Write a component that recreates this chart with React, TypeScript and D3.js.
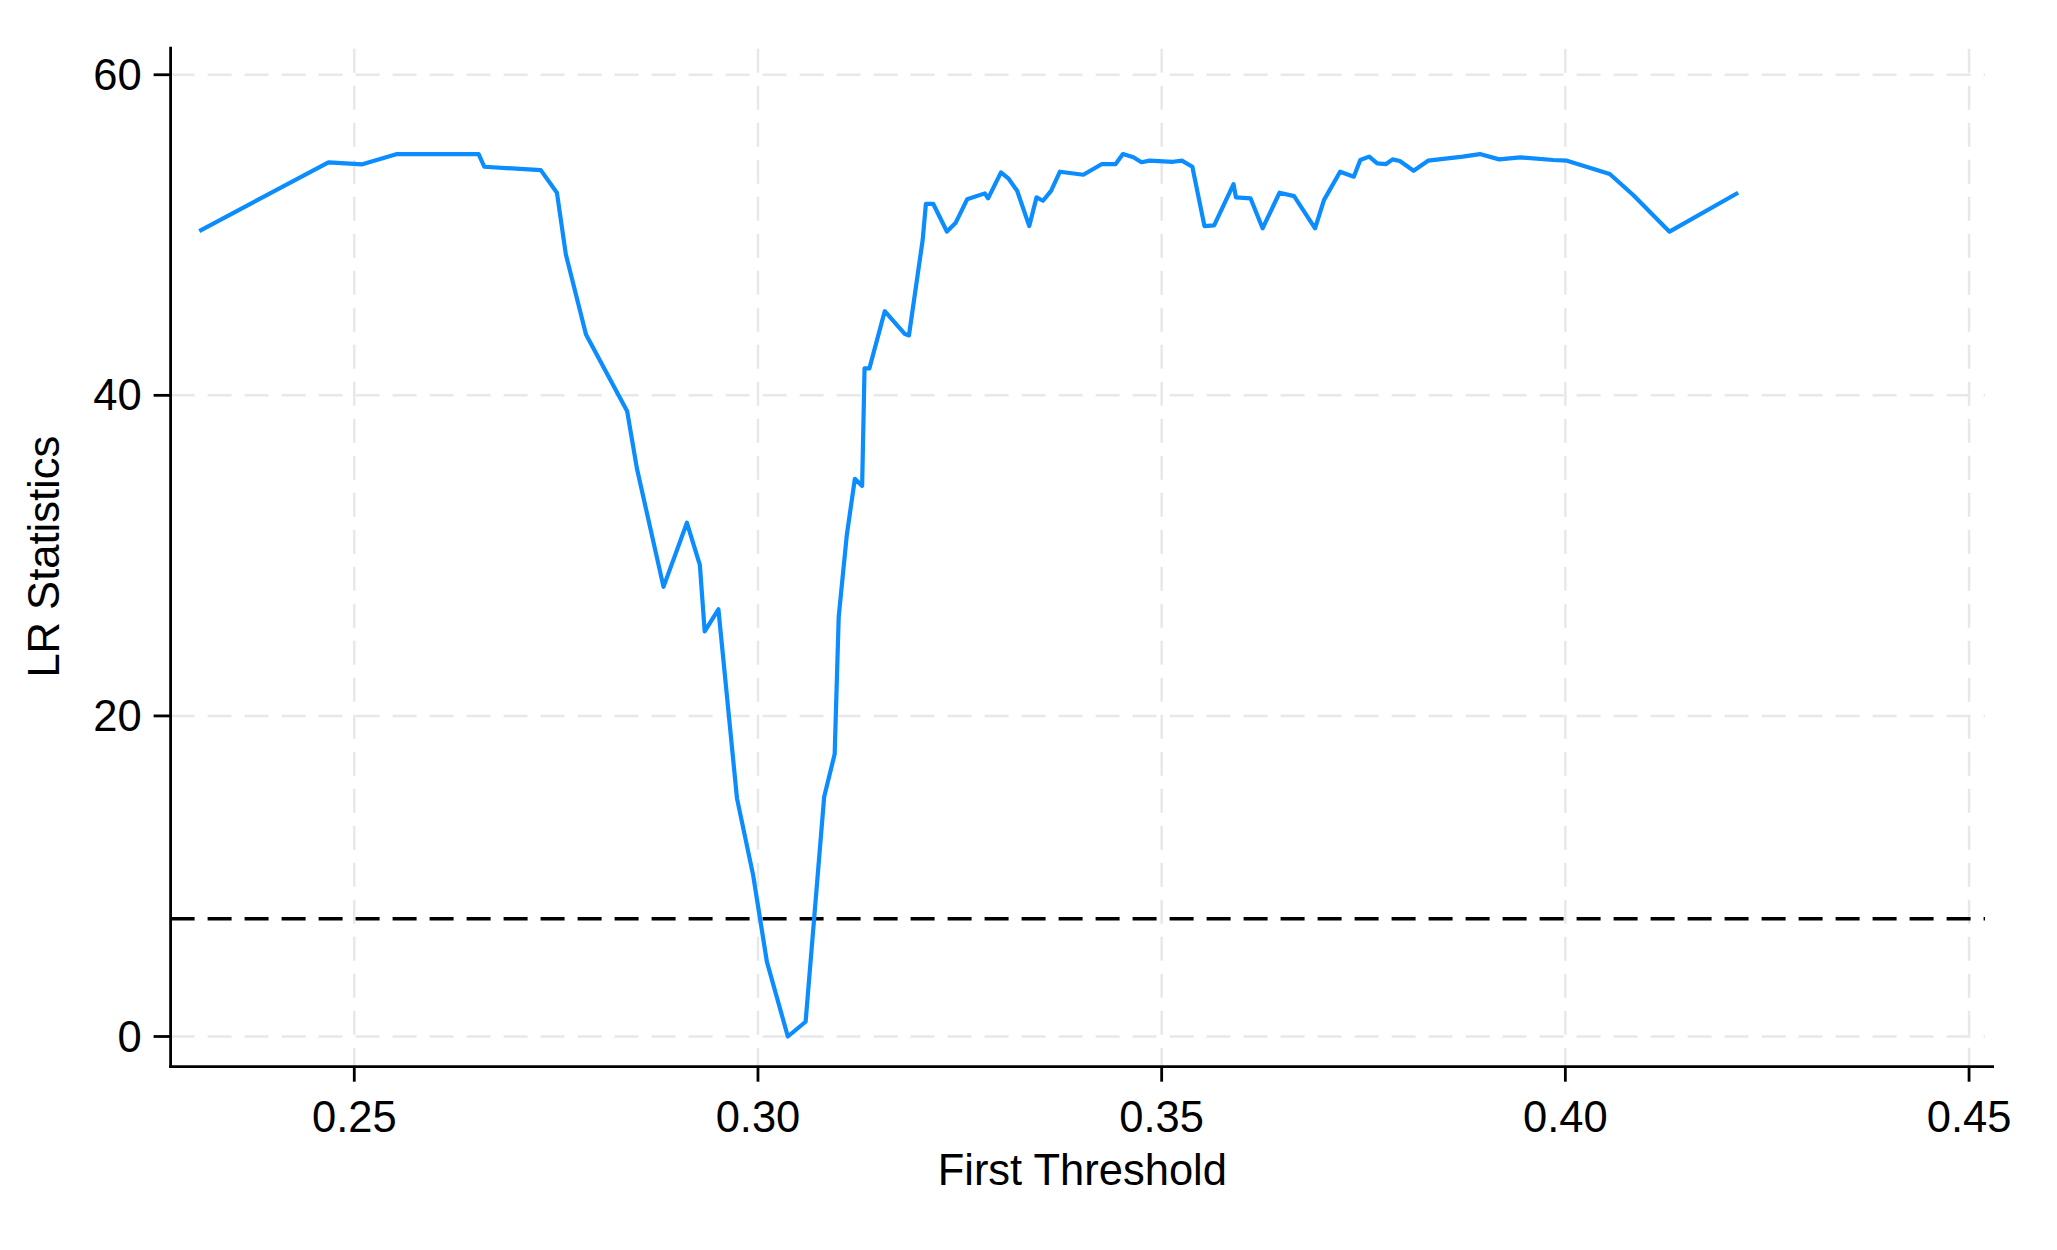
import React from 'react';
import * as d3 from 'd3';

const thresholds = [
  0.2308, 0.2468, 0.2510, 0.2553, 0.2654, 0.2661, 0.2731, 0.2751, 0.2762, 0.2787,
  0.2838, 0.2850, 0.2883, 0.2912, 0.2928, 0.2934, 0.2951, 0.2974, 0.2994, 0.3011,
  0.3037, 0.3059, 0.3082, 0.3095, 0.3100, 0.3110, 0.3120, 0.3129, 0.3132, 0.3138,
  0.3157, 0.3182, 0.3187, 0.3204, 0.3208, 0.3217, 0.3234, 0.3245, 0.3259, 0.3281,
  0.3285, 0.3301, 0.3310, 0.3321, 0.3336, 0.3345, 0.3353, 0.3363, 0.3374, 0.3403,
  0.3426, 0.3443, 0.3452, 0.3465, 0.3475, 0.3485, 0.3514, 0.3525, 0.3538, 0.3553,
  0.3565, 0.3589, 0.3592, 0.3610, 0.3625, 0.3646, 0.3664, 0.3690, 0.3701, 0.3721,
  0.3738, 0.3746, 0.3757, 0.3767, 0.3778, 0.3786, 0.3795, 0.3812, 0.3830, 0.3873,
  0.3894, 0.3918, 0.3944, 0.3985, 0.4002, 0.4055, 0.4084, 0.4129, 0.4214,
];

const lrStats = [
  50.25, 54.53, 54.41, 55.05, 55.05, 54.26, 54.05, 52.64, 48.8, 43.8,
  39.0, 35.45, 28.05, 32.05, 29.43, 25.27, 26.65, 14.86, 10.07, 4.67,
  0.0, 0.92, 14.96, 17.62, 26.19, 31.28, 34.79, 34.35, 41.68, 41.68,
  45.25, 43.82, 43.74, 49.7, 51.95, 51.95, 50.22, 50.77, 52.23, 52.6,
  52.29, 53.91, 53.54, 52.76, 50.56, 52.35, 52.14, 52.76, 53.95, 53.76,
  54.43, 54.43, 55.05, 54.85, 54.54, 54.64, 54.57, 54.64, 54.26, 50.56,
  50.6, 53.18, 52.35, 52.29, 50.42, 52.64, 52.43, 50.42, 52.18, 53.95,
  53.64, 54.68, 54.89, 54.47, 54.43, 54.72, 54.62, 54.01, 54.64, 54.89,
  55.05, 54.72, 54.85, 54.68, 54.64, 53.81, 52.5, 50.21, 52.64,
];

const xTicks = [0.25, 0.3, 0.35, 0.4, 0.45];
const yTicks = [0, 20, 40, 60];
const criticalValue = 7.35;
const xLabel = 'First Threshold';
const yLabel = 'LR Statistics';

export default function App() {
  const W = 2057;
  const H = 1250;
  const left = 170.6;
  const right = 1994;
  const plotRight = 1985;
  const top = 46.7;
  const bottom = 1066.7;
  const font = "'Liberation Sans', Arial, Helvetica, sans-serif";
  const fs = 43.5;

  const x = d3.scaleLinear().domain([0.22725, 0.45309]).range([left, right]);
  const y = d3.scaleLinear().domain([-1.884, 61.75]).range([bottom, top]);

  const data = thresholds.map((t, i) => [t, lrStats[i]] as [number, number]);
  const line = d3
    .line<[number, number]>()
    .x((d) => x(d[0]))
    .y((d) => y(d[1]));

  const gridColor = '#e8e8e8';

  return (
    <svg
      width={W}
      height={H}
      style={{ position: 'absolute', left: 0, top: 0, display: 'block', background: '#fff' }}
    >
      <rect x={0} y={0} width={W} height={H} fill="#fff" />
      {xTicks.map((t) => (
        <line
          key={'vg' + t}
          x1={x(t)}
          x2={x(t)}
          y1={top + 2}
          y2={bottom}
          stroke={gridColor}
          strokeWidth={2.5}
          strokeDasharray="24 13"
        />
      ))}
      {yTicks.map((t) => (
        <line
          key={'hg' + t}
          x1={left}
          x2={plotRight}
          y1={y(t)}
          y2={y(t)}
          stroke={gridColor}
          strokeWidth={2.5}
          strokeDasharray="24 13"
        />
      ))}
      <line
        x1={left}
        x2={plotRight}
        y1={y(criticalValue)}
        y2={y(criticalValue)}
        stroke="#000"
        strokeWidth={3.6}
        strokeDasharray="24 13"
      />
      <path
        d={line(data) || ''}
        fill="none"
        stroke="#0b8cff"
        strokeWidth={4.2}
        strokeLinejoin="round"
        strokeLinecap="butt"
      />
      <line x1={left} x2={left} y1={top} y2={bottom + 1.4} stroke="#000" strokeWidth={2.8} />
      <line x1={left - 1.4} x2={right} y1={bottom} y2={bottom} stroke="#000" strokeWidth={2.8} />
      {yTicks.map((t) => (
        <g key={'yt' + t}>
          <line x1={left - 17} x2={left} y1={y(t)} y2={y(t)} stroke="#000" strokeWidth={2.8} />
          <text
            x={left - 29}
            y={y(t)}
            textAnchor="end"
            dominantBaseline="central"
            fontFamily={font}
            fontSize={fs}
            fill="#000"
          >
            {t}
          </text>
        </g>
      ))}
      {xTicks.map((t) => (
        <g key={'xt' + t}>
          <line x1={x(t)} x2={x(t)} y1={bottom} y2={bottom + 15} stroke="#000" strokeWidth={2.8} />
          <text
            x={x(t)}
            y={1132}
            textAnchor="middle"
            fontFamily={font}
            fontSize={fs}
            fill="#000"
          >
            {d3.format('.2f')(t)}
          </text>
        </g>
      ))}
      <text
        x={(left + right) / 2}
        y={1185}
        textAnchor="middle"
        fontFamily={font}
        fontSize={fs}
        fill="#000"
      >
        {xLabel}
      </text>
      <text
        transform={`translate(59, ${(top + bottom) / 2}) rotate(-90)`}
        textAnchor="middle"
        fontFamily={font}
        fontSize={fs}
        fill="#000"
      >
        {yLabel}
      </text>
    </svg>
  );
}
